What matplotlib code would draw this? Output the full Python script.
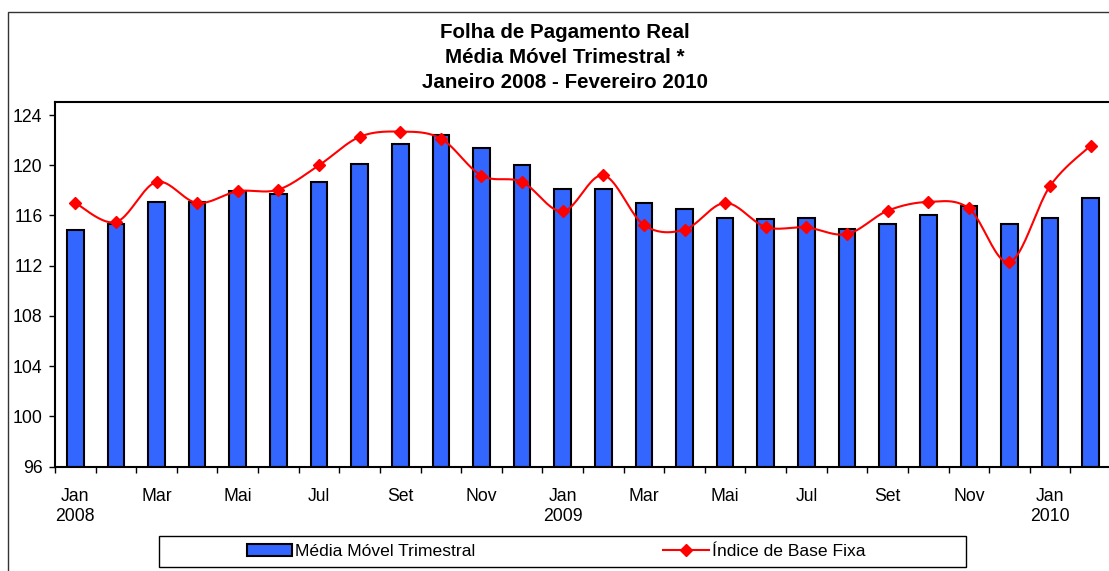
import numpy as np
import matplotlib
matplotlib.use("Agg")
import matplotlib.pyplot as plt
from matplotlib.patches import Rectangle, Patch
from matplotlib.lines import Line2D

plt.rcParams['font.family'] = ['Liberation Sans', 'DejaVu Sans']

# ---------------- data ----------------
months = ["Jan", "Fev", "Mar", "Abr", "Mai", "Jun", "Jul", "Ago", "Set", "Out", "Nov", "Dez",
          "Jan", "Fev", "Mar", "Abr", "Mai", "Jun", "Jul", "Ago", "Set", "Out", "Nov", "Dez",
          "Jan", "Fev"]
years = ["2008", "", "", "", "", "", "", "", "", "", "", "",
         "2009", "", "", "", "", "", "", "", "", "", "", "",
         "2010", ""]
media_movel = [114.87, 115.32, 117.08, 117.05, 117.93, 117.70, 118.67, 120.13, 121.70, 122.42,
               121.36, 120.03, 118.11, 118.11, 116.97, 116.49, 115.77, 115.69, 115.77, 114.89,
               115.35, 116.01, 116.73, 115.35, 115.80, 117.40]
indice_base_fixa = [117.00, 115.48, 118.67, 117.00, 117.93, 118.06, 120.00, 122.26, 122.68, 122.13,
                    119.18, 118.67, 116.33, 119.20, 115.24, 114.87, 117.00, 115.08, 115.05, 114.52,
                    116.38, 117.08, 116.57, 112.29, 118.35, 121.57]
yticks = [96, 100, 104, 108, 112, 116, 120, 124]
title_lines = ["Folha de Pagamento Real", "Média Móvel Trimestral *", "Janeiro 2008 - Fevereiro 2010"]
legend_labels = ["Média Móvel Trimestral", "Índice de Base Fixa"]

# ---------------- layout ----------------
W, H = 1109, 571
fig = plt.figure(figsize=(W / 100, H / 100), dpi=100)
fig.patch.set_facecolor('white')

# outer chart-area frame (cut by the image on right/bottom)
fig.patches.append(Rectangle((8 / W, -0.2), 1.5, 1 - 12 / H + 0.2, transform=fig.transFigure,
                             fill=False, edgecolor='#333333', linewidth=1.0))

ax = fig.add_axes([55 / W, 1 - 466.7 / H, 1056 / W, (466.7 - 101.7) / H])
n = len(months)
x = np.arange(n) + 0.5
ymin = yticks[0]

ax.bar(x, np.array(media_movel) - ymin, bottom=ymin, width=0.41, color='#3366FF',
       edgecolor='black', linewidth=1.5, zorder=2)


def smooth(xs, ys, steps=24):
    pts = np.column_stack([xs, ys]).astype(float)
    out = []
    m = len(pts)
    t = np.linspace(0, 1, steps)[:, None]
    for i in range(m - 1):
        p0 = pts[i - 1] if i > 0 else pts[i]
        p1 = pts[i]
        p2 = pts[i + 1]
        p3 = pts[i + 2] if i + 2 < m else pts[i + 1]
        c1 = p1 + (p2 - p0) / 6.0
        c2 = p2 - (p3 - p1) / 6.0
        seg = ((1 - t) ** 3) * p1 + 3 * ((1 - t) ** 2) * t * c1 + 3 * (1 - t) * t ** 2 * c2 + t ** 3 * p2
        out.append(seg if i == 0 else seg[1:])
    out = np.vstack(out)
    return out[:, 0], out[:, 1]


sx, sy = smooth(x, indice_base_fixa)
ax.plot(sx, sy, color='#FF0000', linewidth=1.5, zorder=3)
ax.plot(x, indice_base_fixa, linestyle='none', marker='D', markersize=6.3,
        color='#FF0000', markeredgecolor='#FF0000', zorder=4)

ax.set_xlim(0, n)
ax.set_ylim(ymin, 125.06)
ax.set_yticks(yticks)
ax.set_yticklabels([str(v) for v in yticks])
ax.tick_params(axis='y', direction='out', length=4, width=1, pad=5, labelsize=12.7)

ax.set_xticks(np.arange(n + 1))
ax.set_xticklabels([])
ax.tick_params(axis='x', which='major', direction='out', length=4, width=1)
lab_pos = [x[i] for i in range(0, n, 2)]
lab_txt = [months[i] + ("\n" + years[i] if years[i] else "") for i in range(0, n, 2)]
ax.set_xticks(lab_pos, minor=True)
ax.set_xticklabels(lab_txt, minor=True)
ax.tick_params(axis='x', which='minor', length=0, pad=15, labelsize=12.7)
for t in ax.get_xticklabels(minor=True):
    t.set_linespacing(1.3)

for s in ['left', 'bottom', 'top']:
    ax.spines[s].set_linewidth(1.5)
    ax.spines[s].set_color('black')
ax.spines['right'].set_visible(False)

# title
for i, line in enumerate(title_lines):
    base = [38, 63.3, 88.3][i]
    fig.text(565 / W, 1 - base / H, line, ha='center', va='baseline',
             fontsize=14.8, fontweight='bold')

# legend box and entries
lx0, lx1, ly0, ly1 = 159, 966, 536, 567
fig.patches.append(Rectangle((lx0 / W, 1 - ly1 / H), (lx1 - lx0) / W, (ly1 - ly0) / H,
                             transform=fig.transFigure, fill=False, edgecolor='black', linewidth=1.0))
half = (lx1 - lx0) / 2
h1 = Patch(facecolor='#3366FF', edgecolor='black', linewidth=1.5)
h2 = Line2D([], [], color='#FF0000', linewidth=1.5, marker='D', markersize=6.3)
for k, (h, lab) in enumerate([(h1, legend_labels[0]), (h2, legend_labels[1])]):
    leg = fig.legend([h], [lab], loc='center',
                     bbox_to_anchor=((lx0 + k * half) / W, 1 - ly1 / H, half / W, (ly1 - ly0) / H),
                     frameon=False, fontsize=12.6, handlelength=2.6, handleheight=0.62,
                     handletextpad=0.15, borderpad=0, borderaxespad=0)

fig.savefig('out.png', dpi=100)
